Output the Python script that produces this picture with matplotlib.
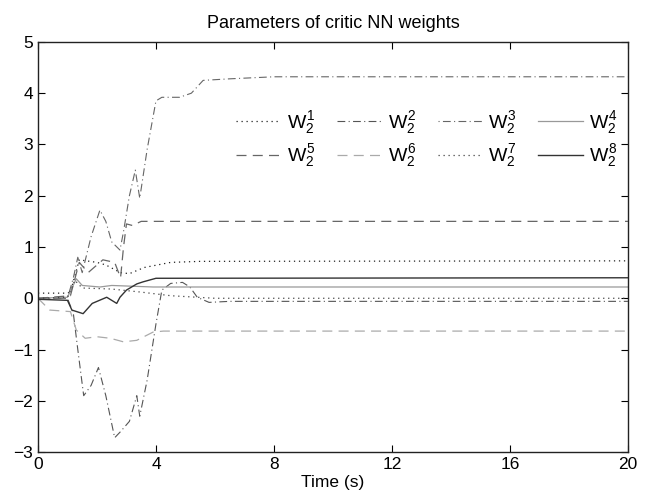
import matplotlib
matplotlib.use('Agg')
import matplotlib.pyplot as plt

plt.rcParams['font.family'] = ['Liberation Sans', 'DejaVu Sans']
plt.rcParams['mathtext.fontset'] = 'custom'
plt.rcParams['mathtext.rm'] = 'Liberation Sans'
plt.rcParams['mathtext.it'] = 'Liberation Sans'

# W_2^1 .. W_2^8 (time in s, value)
t1 = [0, 1.0, 1.1, 1.4, 2.0, 2.3, 2.8, 3.1, 3.6, 4.5, 5.5, 20]
w1 = [0.1, 0.1, 0.12, 0.75, 0.7, 0.65, 0.5, 0.48, 0.6, 0.7, 0.72, 0.73]

t2 = [0, 1.0, 1.2, 1.35, 1.55, 1.8, 2.05, 2.3, 2.6, 2.8, 3.1, 3.35, 3.45, 3.7, 4.0, 4.2, 4.5, 4.9, 5.15, 5.4, 5.8, 6.5, 20]
w2 = [0, 0.0, -0.3, -1.0, -1.9, -1.7, -1.35, -1.9, -2.72, -2.6, -2.4, -1.9, -2.3, -1.6, -0.5, 0.16, 0.29, 0.31, 0.22, 0.02, -0.08, -0.06, -0.06]

t3 = [0, 1.0, 1.2, 1.35, 1.5, 1.8, 2.1, 2.3, 2.5, 2.78, 2.9, 3.1, 3.3, 3.45, 3.7, 4.0, 4.2, 4.8, 5.2, 5.6, 6.5, 8.0, 20]
w3 = [0, 0.0, 0.4, 0.8, 0.5, 1.2, 1.72, 1.5, 1.1, 0.94, 1.3, 2.0, 2.5, 1.95, 2.9, 3.85, 3.92, 3.92, 4.0, 4.25, 4.28, 4.32, 4.32]

t4 = [0, 1.0, 1.3, 1.5, 2.1, 2.5, 3.9, 20]
w4 = [0, 0.02, 0.38, 0.25, 0.22, 0.25, 0.22, 0.22]

t5 = [0, 1.1, 1.4, 1.7, 2.2, 2.6, 2.8, 2.9, 3.0, 3.2, 3.5, 20]
w5 = [0, 0.05, 0.7, 0.5, 0.75, 0.7, 0.4, 1.0, 1.45, 1.42, 1.5, 1.5]

t6 = [0, 0.4, 1.1, 1.3, 1.6, 2.0, 2.45, 2.9, 3.35, 3.9, 4.25, 20]
w6 = [0, -0.23, -0.26, -0.62, -0.78, -0.75, -0.78, -0.85, -0.82, -0.66, -0.64, -0.64]

t7 = [0, 1.0, 1.25, 1.5, 2.5, 3.0, 3.5, 4.5, 6.0, 20]
w7 = [0, 0.02, 0.35, 0.2, 0.18, 0.15, 0.12, 0.05, 0.0, 0.0]

t8 = [0, 1.0, 1.15, 1.53, 1.84, 2.33, 2.67, 2.78, 3.0, 3.35, 3.56, 4.0, 20]
w8 = [-0.02, -0.04, -0.23, -0.3, -0.1, 0.02, -0.1, 0.02, 0.16, 0.28, 0.32, 0.39, 0.40]

labels = ['$W_2^%d$' % i for i in range(1, 9)]

fig = plt.figure(figsize=(6.48, 4.99), dpi=100)
ax = fig.add_axes([0.0586, 0.094, 0.9104, 0.822])

lines = []
lines += ax.plot(t1, w1, color='#222222', lw=0.9, ls=(0, (1, 3)), label=labels[0])
lines += ax.plot(t2, w2, color='#555555', lw=0.8, ls=(0, (7, 3, 1, 3)), label=labels[1])
lines += ax.plot(t3, w3, color='#666666', lw=0.8, ls=(0, (1, 3, 7, 3)), label=labels[2])
lines += ax.plot(t4, w4, color='#999999', lw=0.9, ls='-', label=labels[3])
lines += ax.plot(t5, w5, color='#666666', lw=0.9, ls=(0, (8, 5)), label=labels[4])
lines += ax.plot(t6, w6, color='#aaaaaa', lw=0.9, ls=(0, (8, 5)), label=labels[5])
lines += ax.plot(t7, w7, color='#444444', lw=0.9, ls=(0, (1, 3)), label=labels[6])
lines += ax.plot(t8, w8, color='#333333', lw=1.0, ls='-', label=labels[7])

ax.set_xlim(0, 20)
ax.set_ylim(-3, 5)
ax.set_xticks([0, 4, 8, 12, 16, 20])
ax.set_yticks(range(-3, 6))
ax.set_yticklabels(['\u22123', '\u22122', '\u22121', '0', '1', '2', '3', '4', '5'])
ax.tick_params(direction='in', top=True, right=True, length=5, labelsize=12.5, width=0.8)
for s in ax.spines.values():
    s.set_linewidth(1.0)
    s.set_color('#222222')

ax.set_title('Parameters of critic NN weights', fontsize=13, pad=10)
ax.set_xlabel('Time (s)', fontsize=12.5, labelpad=2)

# legend fills column by column, so interleave to get rows 1-4 / 5-8
order = [0, 4, 1, 5, 2, 6, 3, 7]
leg = ax.legend([lines[i] for i in order], [labels[i] for i in order],
                ncol=4, loc='upper right', bbox_to_anchor=(1.012, 0.88), frameon=False,
                fontsize=14, handlelength=2.3, columnspacing=1.1, handletextpad=0.3,
                labelspacing=0.35)

fig.savefig('out.png', dpi=100)
